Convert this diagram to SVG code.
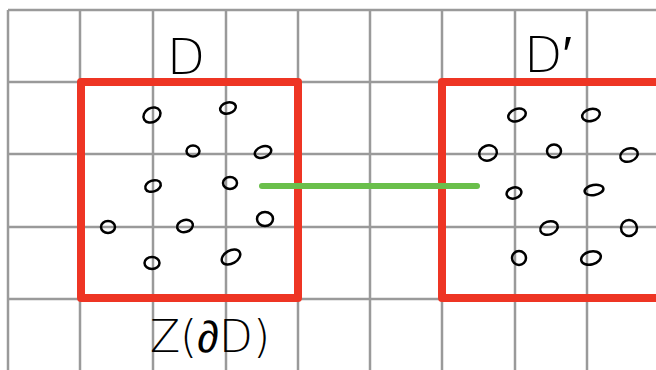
<svg xmlns="http://www.w3.org/2000/svg" width="656" height="370" viewBox="0 0 656 370">
<style>
.grid line{stroke:#9a9a9a;stroke-width:2.5}
.box{fill:none;stroke:#ee3524;stroke-width:8;stroke-linejoin:round}
.pt{fill:none;stroke:#000;stroke-width:2.5}
.lbl{font-family:"DejaVu Sans","Liberation Sans",sans-serif;font-weight:300;fill:#000}
</style>
<rect width="656" height="370" fill="#fff"/>
<g class="grid">
<line x1="8" y1="10" x2="8" y2="370"/>
<line x1="80" y1="10" x2="80" y2="370"/>
<line x1="153" y1="10" x2="153" y2="370"/>
<line x1="226" y1="10" x2="226" y2="370"/>
<line x1="298" y1="10" x2="298" y2="370"/>
<line x1="370" y1="10" x2="370" y2="370"/>
<line x1="442" y1="10" x2="442" y2="370"/>
<line x1="515" y1="10" x2="515" y2="370"/>
<line x1="587" y1="10" x2="587" y2="370"/>
<line x1="8" y1="10" x2="656" y2="10"/>
<line x1="8" y1="82" x2="656" y2="82"/>
<line x1="8" y1="154" x2="656" y2="154"/>
<line x1="8" y1="227" x2="656" y2="227"/>
<line x1="8" y1="299" x2="656" y2="299"/>
</g>
<g id="D">
<rect class="box" x="81" y="82" width="217" height="216"/>
<g>
<ellipse class="pt" cx="152" cy="115" rx="9" ry="7" transform="rotate(-30 152 115)"/>
<ellipse class="pt" cx="228" cy="108" rx="8" ry="5.5" transform="rotate(-15 228 108)"/>
<ellipse class="pt" cx="193" cy="151" rx="6.5" ry="5.5"/>
<ellipse class="pt" cx="263" cy="152" rx="8.5" ry="5.5" transform="rotate(-20 263 152)"/>
<ellipse class="pt" cx="153" cy="186" rx="8" ry="5.5" transform="rotate(-20 153 186)"/>
<ellipse class="pt" cx="230" cy="183" rx="7" ry="6"/>
<ellipse class="pt" cx="108" cy="227" rx="7" ry="6"/>
<ellipse class="pt" cx="185" cy="226" rx="8" ry="6" transform="rotate(-15 185 226)"/>
<ellipse class="pt" cx="265" cy="219" rx="8" ry="7"/>
<ellipse class="pt" cx="152" cy="263" rx="7.5" ry="6"/>
<ellipse class="pt" cx="231" cy="257" rx="10" ry="6.5" transform="rotate(-30 231 257)"/>
</g>
<text class="lbl" x="186" y="74" font-size="50" text-anchor="middle">D</text>
<text class="lbl" x="210" y="352" font-size="44" text-anchor="middle">Z(<tspan font-family="Liberation Sans, sans-serif" font-weight="400">∂</tspan>D)</text>
</g>
<g id="Dprime">
<rect class="box" x="442" y="82" width="218" height="216"/>
<g>
<ellipse class="pt" cx="517" cy="115" rx="9" ry="6" transform="rotate(-20 517 115)"/>
<ellipse class="pt" cx="591" cy="115" rx="9" ry="6" transform="rotate(-15 591 115)"/>
<ellipse class="pt" cx="488" cy="153" rx="9" ry="7.5" transform="rotate(-20 488 153)"/>
<ellipse class="pt" cx="554" cy="151" rx="7" ry="6.5"/>
<ellipse class="pt" cx="629" cy="155" rx="9" ry="6.5" transform="rotate(-20 629 155)"/>
<ellipse class="pt" cx="514" cy="193" rx="7.5" ry="5.5" transform="rotate(-15 514 193)"/>
<ellipse class="pt" cx="594" cy="190" rx="9.5" ry="5" transform="rotate(-10 594 190)"/>
<ellipse class="pt" cx="549" cy="228" rx="9" ry="6.5" transform="rotate(-20 549 228)"/>
<ellipse class="pt" cx="629" cy="228" rx="8" ry="8"/>
<ellipse class="pt" cx="519" cy="258" rx="7" ry="7"/>
<ellipse class="pt" cx="591" cy="258" rx="10" ry="6.5" transform="rotate(-15 591 258)"/>
</g>
<text class="lbl" x="548" y="72" font-size="50" text-anchor="middle">D′</text>
</g>
<g id="connectors">
<line x1="262" y1="186" x2="477" y2="186" stroke="#6abf4b" stroke-width="6" stroke-linecap="round"/>
</g>
</svg>
